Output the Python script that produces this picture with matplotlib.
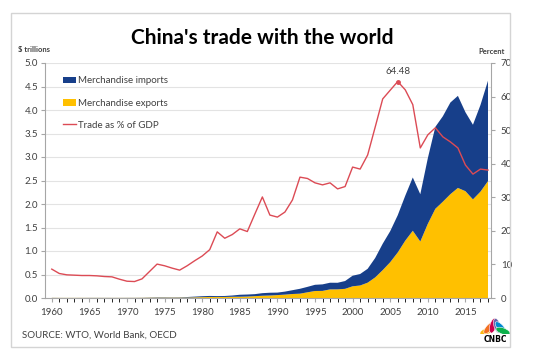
import numpy as np
import matplotlib
matplotlib.use('Agg')
import matplotlib.pyplot as plt
from matplotlib.patches import Rectangle, Ellipse, Patch
from matplotlib.lines import Line2D

plt.rcParams['font.family'] = ['Lato', 'DejaVu Sans']

# data
years = list(range(1960, 2019))

exports = [0.0026, 0.0021, 0.0021, 0.0022, 0.0026, 0.0022, 0.0024, 0.0021, 0.0021, 0.0022,
           0.0023, 0.0026, 0.0034, 0.0058, 0.0069, 0.0073, 0.0069, 0.0076, 0.0097, 0.0137,
           0.018, 0.022, 0.022, 0.022, 0.026, 0.027, 0.031, 0.039, 0.048, 0.053,
           0.062, 0.072, 0.085, 0.092, 0.121, 0.149, 0.151, 0.183, 0.184, 0.195,
           0.249, 0.266, 0.326, 0.438, 0.593, 0.762, 0.969, 1.220, 1.431, 1.202,
           1.578, 1.898, 2.049, 2.209, 2.342, 2.273, 2.098, 2.263, 2.487]

imports = [0.0020, 0.0014, 0.0012, 0.0013, 0.0015, 0.0020, 0.0022, 0.0020, 0.0018, 0.0018,
           0.0023, 0.0022, 0.0029, 0.0052, 0.0076, 0.0075, 0.0066, 0.0072, 0.0111, 0.0157,
           0.020, 0.022, 0.019, 0.021, 0.027, 0.042, 0.043, 0.043, 0.055, 0.059,
           0.053, 0.064, 0.081, 0.104, 0.116, 0.132, 0.139, 0.142, 0.140, 0.166,
           0.225, 0.244, 0.295, 0.413, 0.561, 0.660, 0.792, 0.956, 1.133, 1.006,
           1.396, 1.743, 1.818, 1.950, 1.959, 1.680, 1.588, 1.843, 2.136]

trade_pct_gdp = [8.6, 7.3, 6.9, 6.8, 6.7, 6.7, 6.6, 6.4, 6.3, 5.6,
                 5.0, 4.9, 5.7, 7.9, 10.1, 9.6, 8.9, 8.3, 9.6, 11.1,
                 12.5, 14.4, 19.7, 17.8, 18.9, 20.6, 19.8, 25.0, 30.1, 24.7,
                 24.1, 25.6, 29.2, 36.0, 35.6, 34.3, 33.7, 34.3, 32.5, 33.2,
                 39.0, 38.4, 42.6, 50.9, 59.3, 61.9, 64.48, 62.0, 57.6, 44.7,
                 48.6, 50.7, 48.0, 46.5, 44.7, 39.6, 36.9, 38.4, 38.1]

peak_year = 2006
peak_val = 64.48

navy = '#173F8A'
gold = '#FFC000'
red = '#DC4B55'
grey = '#A6A6A6'
txt = '#404040'

W, H = 537, 364
fig = plt.figure(figsize=(W / 100, H / 100), dpi=100)
fig.patch.set_facecolor('white')

# outer frame
fig.patches.append(Rectangle((11 / W, 1 - 347 / H), 499 / W, 334 / H,
                             transform=fig.transFigure, fill=False,
                             edgecolor='#D4D4D4', lw=1.0))

ax = fig.add_axes([45 / W, 1 - 298 / H, 446 / W, 235 / H])
ax.stackplot(years, exports, imports, colors=[gold, navy], lw=0)
ax.set_xlim(1959.1, 2018.4)
ax.set_ylim(0, 5)
ax.set_yticks(np.arange(0, 5.01, 0.5))
ax.set_yticklabels([f'{v:.1f}' for v in np.arange(0, 5.01, 0.5)])
ax.yaxis.grid(True, color='#E3E3E3', lw=0.8)
ax.set_axisbelow(True)
ax.set_xticks(range(1960, 2019, 5))
ax.set_xticks(range(1960, 2019), minor=True)
for s in ['top', 'right']:
    ax.spines[s].set_visible(False)
for s in ['left', 'bottom']:
    ax.spines[s].set_color(grey)
    ax.spines[s].set_linewidth(0.8)
ax.tick_params(axis='both', colors=grey, labelcolor=txt, labelsize=7, width=0.8)
ax.tick_params(axis='x', which='both', length=3, pad=4)
ax.tick_params(axis='y', length=3, pad=2)

ax2 = ax.twinx()
ax2.plot(years, trade_pct_gdp, color=red, lw=1.0)
ax2.plot([peak_year], [peak_val], 'o', color=red, ms=2.5)
ax2.annotate(f'{peak_val:.2f}', (peak_year, peak_val), xytext=(0, 4),
             textcoords='offset points', ha='center', va='bottom',
             fontsize=7, color=txt)
ax2.set_ylim(0, 70)
ax2.set_yticks(range(0, 71, 10))
for s in ['top', 'left', 'bottom']:
    ax2.spines[s].set_visible(False)
ax2.spines['right'].set_color(grey)
ax2.spines['right'].set_linewidth(0.8)
ax2.tick_params(axis='y', colors=grey, labelcolor=txt, labelsize=7,
                length=3, width=0.8, pad=4)

handles = [Patch(facecolor=navy, edgecolor='none'),
           Patch(facecolor=gold, edgecolor='none'),
           Line2D([], [], color=red, lw=1.0)]
labels = ['Merchandise imports', 'Merchandise exports', 'Trade as % of GDP']
ax.legend(handles, labels, loc='upper left', bbox_to_anchor=(0.02, 0.98),
          frameon=False, fontsize=7, labelcolor=txt, handlelength=1.4,
          handleheight=0.7, handletextpad=0.2, labelspacing=1.35)

fig.text(262 / W, 1 - 38 / H, "China's trade with the world", ha='center',
         va='center', fontsize=15, fontweight='bold', color='black')
fig.text(18 / W, 1 - 49 / H, '$ trillions', ha='left', va='center',
         fontsize=5.5, fontweight='bold', color=txt)
fig.text(505 / W, 1 - 52 / H, 'Percent', ha='right', va='center',
         fontsize=5.5, fontweight='bold', color=txt)
fig.text(22 / W, 1 - 335 / H, 'SOURCE: WTO, World Bank, OECD', ha='left',
         va='center', fontsize=7, color=txt)

# CNBC peacock
lax = fig.add_axes([480 / W, 1 - 346 / H, 30 / W, 34 / H])
lax.set_xlim(0, 30)
lax.set_ylim(34, 0)
lax.axis('off')
feather_cols = ['#FCB711', '#F37021', '#CC004C', '#6460AA', '#0089D0', '#0DB14B']
angles = [-70, -42, -14, 14, 42, 70]
cx, cy = 15, 22
for col, a in zip(feather_cols, angles):
    r = np.deg2rad(a)
    ex = cx + 8.5 * np.sin(r)
    ey = cy - 8.5 * np.cos(r)
    lax.add_patch(Ellipse((ex, ey), 6.2, 15, angle=-a, facecolor=col,
                          edgecolor='white', lw=0.4))
lax.add_patch(Rectangle((0, 22), 30, 12, facecolor='white', edgecolor='none'))
lax.text(15, 27.5, 'CNBC', ha='center', va='center', fontsize=5.5,
         fontweight='heavy', color='black', family=['DejaVu Sans'])

fig.savefig('out.png', dpi=100)
